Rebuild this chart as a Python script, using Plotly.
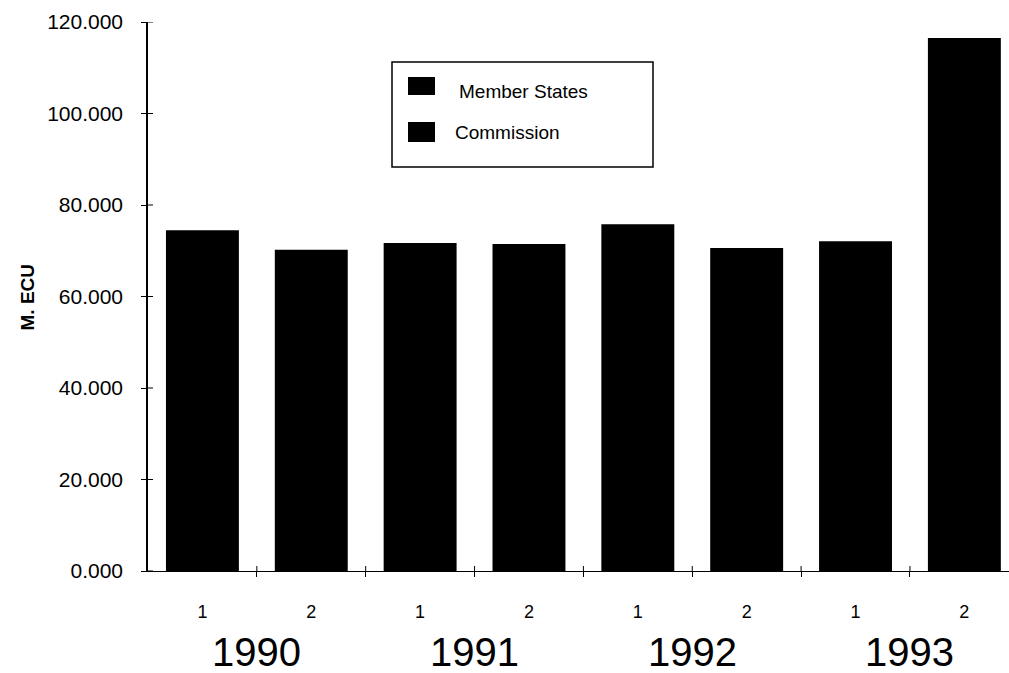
import plotly.graph_objects as go

half_years = ['1', '2', '1', '2', '1', '2', '1', '2']
years = ['1990', '1991', '1992', '1993']
values = [74.5, 70.2, 71.7, 71.5, 75.8, 70.6, 72.1, 116.5]
y_ticks = [0, 20, 40, 60, 80, 100, 120]
legend_labels = ['Member States', 'Commission']

W, H = 1009, 673
L, R, T, B = 148, 0, 22, 102
font = 'Arial, Liberation Sans, sans-serif'


def px(x):
    return (x - L) / (W - L - R)


def py(y):
    return (H - B - y) / (H - T - B)


pos = list(range(len(values)))
bounds = [p + 0.5 for p in pos[:-1]]

fig = go.Figure()
fig.add_trace(go.Bar(x=pos, y=values, marker=dict(color='black', line=dict(width=0)),
                     width=0.67, showlegend=False, hoverinfo='y'))

# tick crosses: the inner half of each tick
for b in bounds:
    fig.add_shape(type='line', xref='x', yref='y', ysizemode='pixel', yanchor=0,
                  x0=b, x1=b, y0=0, y1=5, line=dict(color='black', width=1))
for t in y_ticks:
    fig.add_shape(type='line', xref='paper', yref='y', xsizemode='pixel', xanchor=0,
                  x0=0, x1=5, y0=t, y1=t, line=dict(color='black', width=1))

# years under the half-year labels
for i, yr in enumerate(years):
    fig.add_annotation(x=2 * i + 0.5, y=py(652), xref='x', yref='paper', text=yr,
                       showarrow=False, yanchor='middle',
                       font=dict(size=40, color='black', family=font))

fig.add_annotation(x=px(27), y=0.5, xref='paper', yref='paper', text='<b>M. ECU</b>',
                   textangle=-90, showarrow=False, xanchor='center', yanchor='middle',
                   font=dict(size=19, color='black', family=font))

# legend box
fig.add_shape(type='rect', xref='paper', yref='paper', x0=px(392), x1=px(653),
              y0=py(167), y1=py(62), line=dict(color='black', width=1.5), fillcolor='white')
leg_y = [(77, 95, 92, 457), (122, 142, 132, 453)]
for lab, (ya, yb, yc, tx) in zip(legend_labels, leg_y):
    fig.add_shape(type='rect', xref='paper', yref='paper', x0=px(408), x1=px(435),
                  y0=py(yb), y1=py(ya), line=dict(width=0), fillcolor='black')
    fig.add_annotation(x=px(tx), y=py(yc), xref='paper', yref='paper', text=lab,
                       showarrow=False, xanchor='left', yanchor='middle',
                       font=dict(size=19, color='black', family=font))

fig.update_xaxes(
    range=[-0.5, 7.41],
    tickmode='array', tickvals=pos, ticktext=half_years,
    ticks='', ticklabelstandoff=24,
    tickfont=dict(size=18, color='black', family=font),
    minor=dict(tickmode='array', tickvals=bounds, ticks='outside', ticklen=5,
               tickcolor='black', tickwidth=1),
    showline=True, linecolor='black', linewidth=1,
    showgrid=False, zeroline=False, fixedrange=True,
)
fig.update_yaxes(
    range=[0, 120],
    tickmode='array', tickvals=y_ticks, tickformat='.3f',
    ticks='outside', ticklen=5, tickcolor='black',
    ticklabelstandoff=14,
    tickfont=dict(size=21, color='black', family=font),
    showline=True, linecolor='black', linewidth=1.5,
    showgrid=False, zeroline=False, fixedrange=True,
)
fig.update_layout(
    width=W, height=H,
    margin=dict(l=L, r=R, t=T, b=B),
    paper_bgcolor='white', plot_bgcolor='white',
    font=dict(family=font, color='black'),
    showlegend=False,
)

# the page body has a default margin that would shift the figure
fig.write_html('out.html', config={'displayModeBar': False},
               post_script="document.body.style.margin='0';")
